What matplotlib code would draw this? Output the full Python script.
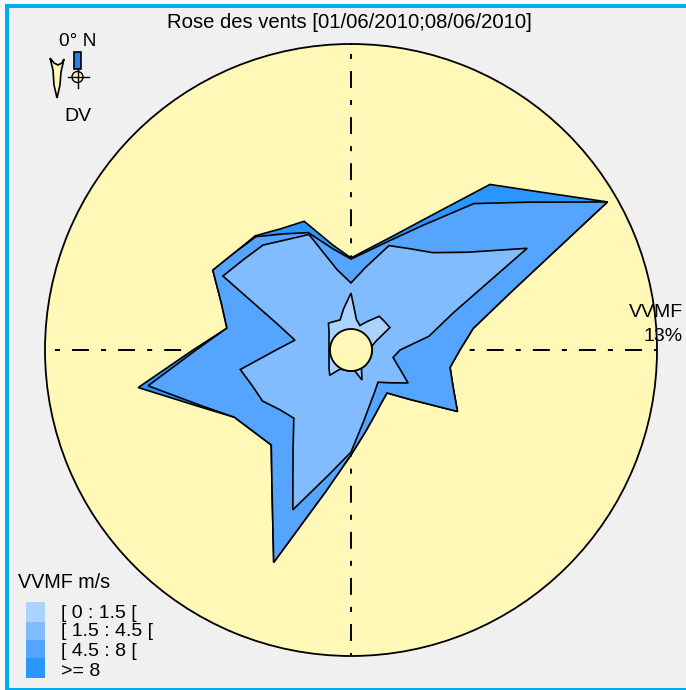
import numpy as np
import matplotlib
matplotlib.use("Agg")
import matplotlib.pyplot as plt
from matplotlib.patches import Circle, Polygon, Rectangle

W, H = 686, 690
CX, CY, RADIUS = 351, 350, 306

directions = np.arange(0, 360, 10)
# cumulated frequency (%) per wind direction, one list per speed class
freq_0_15 = [1.64, 0.46, 0.23, 0.55, 1.05, 1.05, 1.09, 0.27, 0, 0, 0, 0,
             0, 0, 0, 0, 0.50, 0, 0, 0, 0, 0.05, 0.55, 0.35,
             0.20, 0.11, 0.06, 0.05, 0.06, 0.11, 0.20, 0.35, 0.64, 0.55, 0.50, 0.96]
freq_15_45 = [2.10, 2.87, 4.11, 4.38, 4.84, 5.98, 8.32, 4.01, 2.65, 1.28, 0.99, 1.37,
              2.05, 1.37, 0.96, 1.22, 1.63, 2.35, 3.70, 4.81, 6.80, 4.33, 3.10, 3.28,
              3.70, 3.83, 4.17, 2.46, 1.64, 2.69, 5.79, 5.45, 5.29, 4.86, 4.65, 2.78]
freq_45_8 = [3.19, 3.64, 4.38, 5.61, 7.76, 9.53, 12.55, 6.84, 4.70, 4.01, 3.63, 4.00,
             4.65, 2.55, 1.60, 1.82, 2.21, 2.83, 3.83, 5.57, 9.35, 6.25, 4.70, 4.84,
             5.18, 6.39, 8.44, 6.11, 4.79, 5.34, 6.32, 5.96, 5.79, 5.16, 4.74, 3.72]
freq_8 = [3.24, 3.74, 4.56, 6.02, 8.90, 10.26, 12.55, 6.84, 4.70, 4.01, 3.63, 4.00,
          4.65, 2.55, 1.60, 1.82, 2.21, 2.83, 3.83, 5.57, 9.35, 6.25, 4.70, 4.84,
          5.18, 6.51, 8.90, 6.25, 4.79, 5.34, 6.32, 5.96, 5.84, 5.43, 5.29, 3.92]

class_labels = ["[ 0 : 1.5 [", "[ 1.5 : 4.5 [", "[ 4.5 : 8 [", ">= 8"]
class_colors = ["#aad4ff", "#80bcff", "#55a5ff", "#2a96ff"]
series = [freq_8, freq_45_8, freq_15_45, freq_0_15]
series_colors = class_colors[::-1]

R_MAX = 13
HOLE = 21 / ((RADIUS - 21) / R_MAX)  # r axis goes below 0 to leave the centre hole
YELLOW = "#fff8b6"
GREY = "#f0f0f0"
BLUE = "#00aeef"
LW = 1.4
CROSS_DASH = (9.8, (8.7, 6.2, 2.6, 6.2))

plt.rcParams["font.family"] = "Liberation Sans"
fig = plt.figure(figsize=(W / 100, H / 100), dpi=100, facecolor="#fafafa")

ax = fig.add_axes([(CX - RADIUS) / W, (H - CY - RADIUS) / H, 2 * RADIUS / W, 2 * RADIUS / H],
                  projection="polar", zorder=2)
ax.set_theta_zero_location("N")
ax.set_theta_direction(-1)
ax.set_ylim(-HOLE, R_MAX)
ax.set_xticks([])
ax.set_yticks([])
ax.grid(False)
ax.set_facecolor(YELLOW)
ax.spines["polar"].set_linewidth(1.3)

ax.plot(np.deg2rad([270, 90]), [R_MAX, R_MAX], color="black", lw=LW, linestyle=CROSS_DASH, zorder=1)
ax.plot(np.deg2rad([0, 180]), [R_MAX, R_MAX], color="black", lw=LW, linestyle=CROSS_DASH, zorder=1)

theta = np.deg2rad(directions)
for values, color in zip(series, series_colors):
    ax.fill(theta, values, facecolor=color, edgecolor="black", lw=1.2, zorder=2)

ring = np.linspace(0, 2 * np.pi, 120)
ax.fill(ring, np.zeros_like(ring), facecolor=YELLOW, edgecolor="black", lw=1.3, zorder=3)

# background panel and frame, under the rose
bg = fig.add_axes([0, 0, 1, 1], facecolor="none", zorder=1)
bg.set_xlim(0, W)
bg.set_ylim(H, 0)
bg.axis("off")
bg.add_patch(Rectangle((5, 4), W - 5, H - 4, facecolor=GREY, edgecolor="none"))
bg.add_patch(Rectangle((5, 4), W - 5, 4, facecolor=BLUE, edgecolor="none"))
bg.add_patch(Rectangle((5, 4), 4, H - 4, facecolor=BLUE, edgecolor="none"))
bg.add_patch(Rectangle((5, H - 2), W - 5, 2, facecolor=BLUE, edgecolor="none"))

# overlay in pixel coordinates for compass, texts and legend
ov = fig.add_axes([0, 0, 1, 1], facecolor="none", zorder=3)
ov.set_xlim(0, W)
ov.set_ylim(H, 0)
ov.axis("off")

ov.text(349, 22.5, "Rose des vents [01/06/2010;08/06/2010]", ha="center", va="center", fontsize=14.6)
ov.text(77.5, 41, "0° N", ha="center", va="center", fontsize=13.8)
ov.text(78, 116.5, "DV", ha="center", va="center", fontsize=14)

# wind direction arrow
ov.add_patch(Polygon([(50, 58), (54, 63), (58, 65), (62, 63), (64, 59), (61, 72), (60, 85), (57, 98),
                      (54, 85), (53, 70)], facecolor=YELLOW, edgecolor="black", lw=1.2))
ov.add_patch(Rectangle((74, 52), 7, 17, facecolor="#2a80e8", edgecolor="black", lw=1.2))
ov.plot([77.5, 77.5], [69, 72], color="black", lw=1)
ov.add_patch(Circle((77.5, 77), 5.5, facecolor=YELLOW, edgecolor="black", lw=1))
ov.plot([68, 89], [77, 77], color="black", lw=1)
ov.plot([77.5, 77.5], [69, 88], color="black", lw=1)

ov.text(683, 312.5, "VVMF", ha="right", va="center", fontsize=14)
ov.text(683, 336.5, "13%", ha="right", va="center", fontsize=14)

ov.text(18, 582, "VVMF m/s", ha="left", va="center", fontsize=14.2)
swatch_edges = [602, 622, 640, 658, 678]
label_rows = [613.5, 632, 651, 671]
for i, (label, color) in enumerate(zip(class_labels, class_colors)):
    ov.add_patch(Rectangle((26, swatch_edges[i]), 19, swatch_edges[i + 1] - swatch_edges[i],
                           facecolor=color, edgecolor="none"))
    ov.text(61, label_rows[i], label, ha="left", va="center", fontsize=14)

fig.savefig("out.png", dpi=100, facecolor=fig.get_facecolor())
